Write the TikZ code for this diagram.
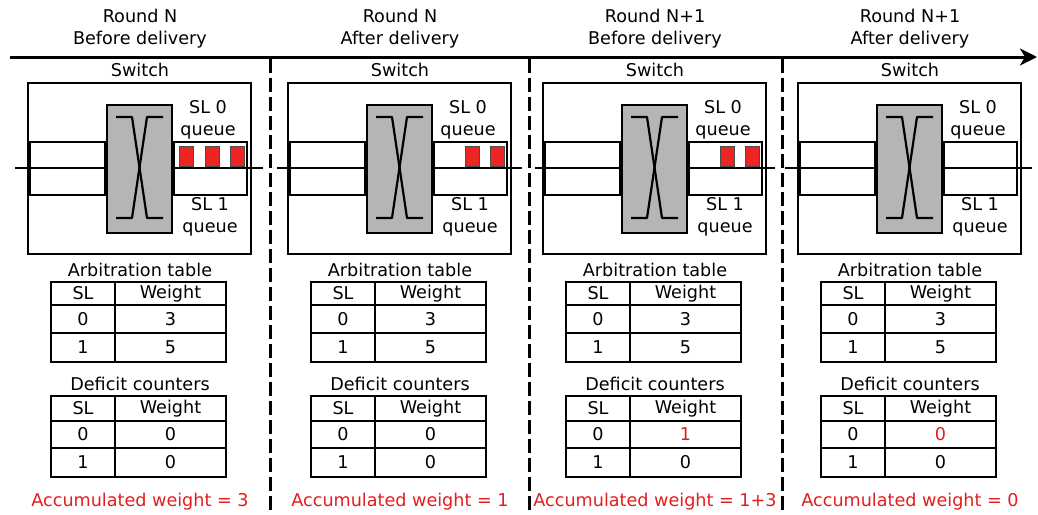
\documentclass[tikz,border=0pt]{standalone}
\usepackage{fontspec}
\setmainfont{DejaVu Sans}
\usetikzlibrary{arrows.meta}
\definecolor{pktred}{RGB}{236,36,36}
\definecolor{txtred}{RGB}{228,28,28}
\tikzset{
  lbl/.style={inner sep=0pt, font=\fontsize{17.6}{22}\selectfont, align=center},
  redlbl/.style={lbl, text=txtred},
  boxline/.style={draw=black, line width=2.6pt},
  crossbar/.style={draw=black, line width=2.6pt, fill=gray!58},
  xline/.style={draw=black, line width=2.2pt, line join=round},
  packet/.style={draw=black!70, line width=0.8pt, fill=pktred},
  midline/.style={draw=black, line width=1.6pt},
  sep/.style={draw=black, line width=3pt, dash pattern=on 14pt off 5pt},
  timeline/.style={draw=black, line width=3pt, -{Stealth[length=17pt,width=17pt,inset=5pt]}}
}
% One panel: #1 index, #2 horizontal offset, #3/#4 title lines,
% #5 packet positions, #6 deficit counter of SL 0, #7 accumulated weight,
% #8 start of the middle line, #9 end of the middle line
\newcommand{\drawpanel}[9]{%
\begin{scope}[xshift=#2pt]
  \node[lbl] (title#1) at (140,29) {#3\\#4};
  \node[lbl] (swlbl#1) at (140,70) {Switch};
  \node[boxline, inner sep=0pt, minimum width=223pt, minimum height=171pt] (sw#1) at (139.5,168.5) {};
  \draw[midline] (#8,168) -- (#9,168);
  \node[boxline, inner sep=0pt, minimum width=75pt, minimum height=53pt] (inbuf#1) at (67.5,168.5) {};
  \node[boxline, inner sep=0pt, minimum width=73pt, minimum height=53pt] (outq#1) at (210.5,168.5) {};
  \node[crossbar, inner sep=0pt, minimum width=65pt, minimum height=128pt] (xb#1) at (139.5,169) {};
  \draw[xline] (116,117) -- (132,117) -- (147,218) -- (163,218);
  \draw[xline] (163,117) -- (147,117) -- (132,218) -- (116,218);
  \node[lbl] (sl0lbl#1) at (208,120) {SL 0\\queue};
  \node[lbl] (sl1lbl#1) at (210,217) {SL 1\\queue};
  \foreach \px [count=\k] in {#5} {
    \node[packet, inner sep=0pt, minimum width=14pt, minimum height=20pt] (pkt#1-\k) at (\px+7,156) {};
  }
  % arbitration table
  \node[lbl] (arblbl#1) at (140,270) {Arbitration table};
  \draw[boxline] (51,282) rectangle (226,362);
  \draw[boxline] (51,305) -- (226,305) (51,333) -- (226,333) (115,282) -- (115,362);
  \node[lbl] (arbsl#1) at (83,293.5) {SL};
  \node[lbl] (arbw#1) at (170.5,293.5) {Weight};
  \node[lbl] (arbs0#1) at (83,319) {0};
  \node[lbl] (arbw0#1) at (170.5,319) {3};
  \node[lbl] (arbs1#1) at (83,347.5) {1};
  \node[lbl] (arbw1#1) at (170.5,347.5) {5};
  % deficit counters
  \node[lbl] (dclbl#1) at (140,384) {Deficit counters};
  \draw[boxline] (51,396) rectangle (226,477);
  \draw[boxline] (51,421) -- (226,421) (51,448) -- (226,448) (115,396) -- (115,477);
  \node[lbl] (dcsl#1) at (83,408.5) {SL};
  \node[lbl] (dcw#1) at (170.5,408.5) {Weight};
  \node[lbl] (dcs0#1) at (83,434.5) {0};
  \node[lbl] (dcw0#1) at (170.5,434.5) {#6};
  \node[lbl] (dcs1#1) at (83,462.5) {1};
  \node[lbl] (dcw1#1) at (170.5,462.5) {0};
  \node[redlbl] (acc#1) at (140,502) {#7};
\end{scope}}

\begin{document}
\begin{tikzpicture}[x=1pt, y=-1pt]
  \useasboundingbox (0,0) rectangle (1038,514);
  \drawpanel{1}{0}{Round N}{Before delivery}{179,205,230}{0}{Accumulated weight = 3}{15}{263}
  \drawpanel{2}{260}{Round N}{After delivery}{205,230}{0}{Accumulated weight = 1}{17}{262}
  \drawpanel{3}{515}{Round N+1}{Before delivery}{205,230}{\textcolor{txtred}{1}}{Accumulated weight = 1+3}{20}{260}
  \drawpanel{4}{770}{Round N+1}{After delivery}{}{\textcolor{txtred}{0}}{Accumulated weight = 0}{15}{262}
  % time axis and panel separators
  \coordinate (tstart) at (10,57);
  \coordinate (tend) at (1037,57);
  \draw[timeline] (tstart) -- (tend);
  \foreach \sx [count=\i] in {270,529,782} {
    \coordinate (septop\i) at (\sx,58.5);
    \coordinate (sepbot\i) at (\sx,514);
    \draw[sep] (septop\i) -- (sepbot\i);
  }
\end{tikzpicture}
\end{document}
